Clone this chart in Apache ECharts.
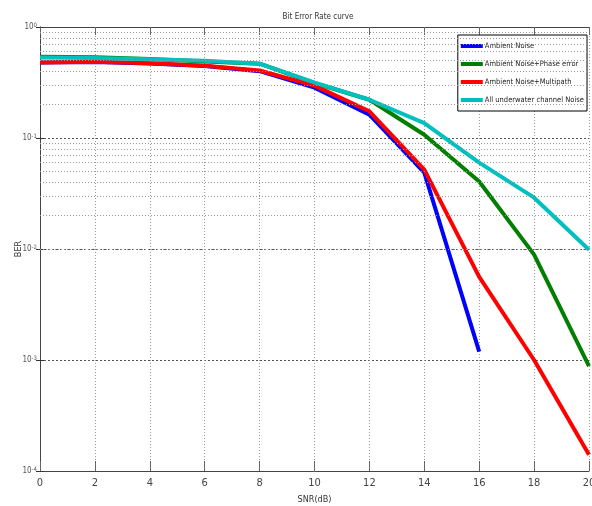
<!DOCTYPE html>
<html>
<head>
<meta charset="utf-8">
<script src="https://cdn.jsdelivr.net/npm/echarts@6/dist/echarts.min.js"></script>
<style>
html,body{margin:0;padding:0;background:#fff;}
#c{width:592px;height:506px;}
</style>
</head>
<body>
<div id="c"></div>
<script>
const snr = [0, 2, 4, 6, 8, 10, 12, 14, 16, 18, 20];
const ambient = [0.48, 0.485, 0.47, 0.445, 0.40, 0.284, 0.162, 0.0487, 0.00119, null, null];
const phaseErr = [0.54, 0.535, 0.515, 0.49, 0.467, 0.313, 0.221, 0.107, 0.0406, 0.0089, 0.00088];
const multipath = [0.48, 0.487, 0.472, 0.448, 0.406, 0.296, 0.174, 0.0518, 0.0056, 0.001, 0.00014];
const allNoise = [0.53, 0.526, 0.513, 0.497, 0.467, 0.316, 0.221, 0.136, 0.06, 0.029, 0.00986];
const names = ['Ambient Noise', 'Ambient Noise+Phase error', 'Ambient Noise+Multipath', 'All underwater channel Noise'];
const colors = ['#0000ff', '#007f00', '#ff0000', '#00bfbf'];
const decades = [1e-4, 1e-3, 1e-2, 1e-1];
const minorMultipliers = [2, 3, 4, 5, 6, 7, 8, 9];

const minorGrid = [];
decades.forEach(d => minorMultipliers.forEach(m => minorGrid.push(m * d)));

const narrow = "'Liberation Sans Narrow', 'DejaVu Sans Condensed', sans-serif";
const frame = '#444';

function pairs(ys) { return snr.map((x, i) => [x, ys[i]]); }

const seriesData = [ambient, phaseErr, multipath, allNoise];
const series = [{
  name: 'grid',
  type: 'line',
  data: [],
  silent: true,
  z: 1,
  markLine: {
    silent: true,
    symbol: 'none',
    animation: false,
    label: { show: false },
    lineStyle: { type: [1, 2], color: '#999', width: 1 },
    data: minorGrid.map(v => ({ yAxis: v }))
  }
}];
seriesData.forEach((d, i) => {
  series.push({
    name: names[i],
    type: 'line',
    data: pairs(d),
    showSymbol: false,
    symbol: 'none',
    connectNulls: false,
    z: 3,
    lineStyle: { width: 4, color: colors[i] },
    itemStyle: { color: colors[i] }
  });
});

const chart = echarts.init(document.getElementById('c'), null, { renderer: 'canvas' });
chart.setOption({
  animation: false,
  backgroundColor: '#fff',
  title: {
    text: 'Bit Error Rate curve',
    left: 313, top: 8, textAlign: 'center',
    textStyle: { fontSize: 8, fontWeight: 'normal', color: '#333', fontFamily: narrow }
  },
  grid: { left: 40, right: 3, top: 27, bottom: 35, outerBoundsMode: 'none', containLabel: false },
  legend: {
    data: names,
    orient: 'vertical',
    right: 5, top: 35,
    icon: 'rect',
    itemWidth: 22, itemHeight: 4,
    itemGap: 6,
    padding: [5, 3, 5, 3],
    backgroundColor: '#fff',
    borderColor: '#000', borderWidth: 1,
    textStyle: { fontSize: 7.5, color: '#222', fontFamily: narrow, lineHeight: 12, padding: [0, 0, 0, -3] }
  },
  xAxis: [{
    type: 'value', min: 0, max: 20, interval: 2,
    name: 'SNR(dB)', nameLocation: 'middle', nameGap: 24, nameMoveOverlap: false,
    nameTextStyle: { fontSize: 9, color: '#333', fontFamily: narrow },
    axisLine: { show: true, onZero: false, lineStyle: { color: frame } },
    axisTick: { inside: true, length: 10, lineStyle: { color: '#666' } },
    axisLabel: { fontSize: 11, color: '#444', fontFamily: narrow, margin: 7 },
    splitLine: { show: true, lineStyle: { type: [1, 2], color: '#999' } }
  }, {
    type: 'value', position: 'top', min: 0, max: 20, interval: 2,
    axisLine: { show: true, lineStyle: { color: frame } },
    axisTick: { inside: true, length: 8, lineStyle: { color: '#666' } },
    axisLabel: { show: false },
    splitLine: { show: false }
  }],
  yAxis: [{
    type: 'log', logBase: 10, min: 1e-4, max: 1,
    name: 'BER', nameLocation: 'middle', nameGap: 17, nameRotate: 90, nameMoveOverlap: false,
    nameTextStyle: { fontSize: 9, color: '#333', fontFamily: narrow },
    axisLine: { show: true, lineStyle: { color: frame } },
    axisTick: { inside: true, length: 4, lineStyle: { color: '#333' } },
    axisLabel: {
      margin: 3,
      formatter: v => '{b|10}{s|' + Math.round(Math.log10(v)) + '}',
      rich: {
        b: { fontSize: 8, color: '#555', fontFamily: narrow, lineHeight: 10 },
        s: { fontSize: 6, color: '#555', fontFamily: narrow, verticalAlign: 'top', lineHeight: 7 }
      }
    },
    splitLine: { show: true, lineStyle: { type: [2, 2], color: '#555' } }
  }, {
    type: 'log', logBase: 10, min: 1e-4, max: 1, position: 'right',
    axisLine: { show: true, lineStyle: { color: frame } },
    axisTick: { inside: true, length: 4, lineStyle: { color: '#333' } },
    axisLabel: { show: false },
    splitLine: { show: false }
  }],
  series: series
});
</script>
</body>
</html>
